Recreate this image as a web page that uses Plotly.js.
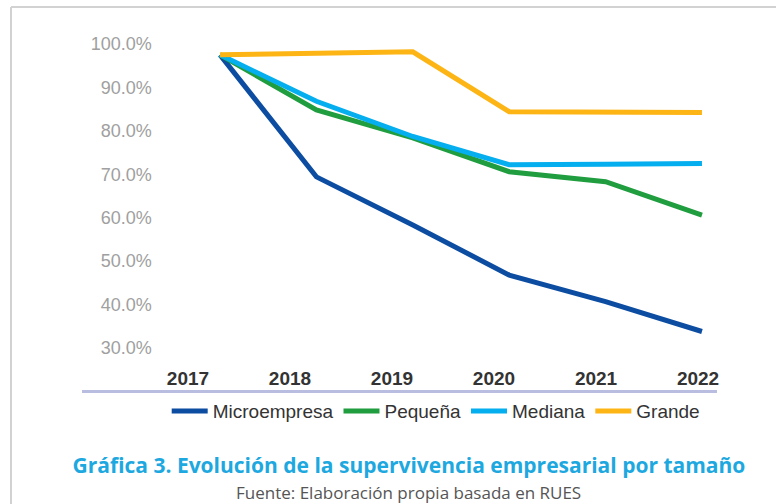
<!DOCTYPE html>
<html>
<head>
<meta charset="utf-8">
<script src="https://cdn.plot.ly/plotly-3.0.1.min.js"></script>
<style>html,body{margin:0;padding:0;background:#fff;}#chart{width:776px;height:504px;}</style>
</head>
<body>
<div id="chart"></div>
<script>
const years = [2017, 2018, 2019, 2020, 2021, 2022];
const yearLabels = ["2017", "2018", "2019", "2020", "2021", "2022"];
const seriesNames = ["Microempresa", "Pequeña", "Mediana", "Grande"];
const microempresa = [97.5, 69.4, 58.3, 46.8, 40.7, 33.8];
const pequena = [97.5, 84.8, 78.4, 70.6, 68.3, 60.6];
const mediana = [97.5, 86.8, 78.7, 72.2, 72.3, 72.5];
const grande = [97.5, 97.8, 98.2, 84.4, 84.3, 84.2];
const yTicks = [30, 40, 50, 60, 70, 80, 90, 100];
const colors = ["#0c4da2", "#1f9d3f", "#05aeee", "#fdb515"];

const seriesValues = [microempresa, pequena, mediana, grande];
const traces = seriesValues.map((vals, i) => ({
  type: "scatter",
  mode: "lines",
  x: years,
  y: vals,
  name: seriesNames[i],
  line: {color: colors[i], width: 5},
  xaxis: "x",
  yaxis: "y",
  hoverinfo: "x+y+name"
}));
// empty helper trace so the category-label axis (x2) is drawn
traces.push({
  type: "scatter", mode: "none",
  x: years, y: years.map(() => null),
  xaxis: "x2", yaxis: "y",
  showlegend: false, hoverinfo: "skip"
});

const W = 635, H = 360;
const layout = {
  width: 776,
  height: 504,
  margin: {l: 82, r: 59, t: 30, b: 114},
  paper_bgcolor: "#ffffff",
  plot_bgcolor: "#ffffff",
  showlegend: true,
  legend: {
    orientation: "h",
    x: 0.557, xanchor: "center",
    y: -0.006, yanchor: "top",
    bgcolor: "rgba(0,0,0,0)",
    font: {family: "Liberation Sans, Arial, sans-serif", size: 19, color: "#333333"},
    itemwidth: 36,
    tracegroupgap: 0
  },
  title: {
    text: "<b>Gráfica 3. Evolución de la supervivencia empresarial por tamaño</b>",
    font: {family: "Open Sans, sans-serif", size: 21, color: "#1ea8e0"},
    x: 0.527, xref: "container", xanchor: "center",
    y: 1 - 466 / 504, yref: "container", yanchor: "middle"
  },
  xaxis: {
    range: [2015.568, 2022.156],
    showline: true, linecolor: "#b9bde0", linewidth: 3,
    showticklabels: false, ticks: "", showgrid: false, zeroline: false,
    fixedrange: true
  },
  xaxis2: {
    overlaying: "x", anchor: "free", position: 0.07, side: "bottom",
    range: [2015.961, 2022.186],
    tickmode: "array", tickvals: years, ticktext: yearLabels,
    ticks: "", showline: false, showgrid: false, zeroline: false,
    tickfont: {family: "Liberation Sans, Arial, sans-serif", size: 19, color: "#333333", weight: "bold"}
  },
  yaxis: {
    range: [20.33, 103.22],
    anchor: "free", position: 0.11,
    tickmode: "array", tickvals: yTicks,
    ticktext: yTicks.map(v => v.toFixed(1) + "%"),
    ticks: "", showline: false, showgrid: false, zeroline: false,
    tickfont: {family: "Liberation Sans, Arial, sans-serif", size: 18, color: "#a0a0a0"}
  },
  annotations: [{
    text: "Fuente: Elaboración propia basada en RUES",
    xref: "paper", yref: "paper",
    x: (409 - 82) / W, y: -(493 - 390) / H,
    xanchor: "center", yanchor: "middle",
    showarrow: false,
    font: {family: "Open Sans, sans-serif", size: 17, color: "#555555"}
  }],
  shapes: [
    {type: "line", xref: "paper", yref: "paper",
     x0: (11 - 82) / W, x1: (11 - 82) / W, y0: 1 + (30 - 7) / H, y1: -(504 - 390) / H,
     line: {color: "#d2d2d2", width: 2}},
    {type: "line", xref: "paper", yref: "paper",
     x0: (11 - 82) / W, x1: (776 - 82) / W, y0: 1 + (30 - 7) / H, y1: 1 + (30 - 7) / H,
     line: {color: "#d2d2d2", width: 2}}
  ]
};

Plotly.newPlot("chart", traces, layout, {displayModeBar: false, staticPlot: true});
</script>
</body>
</html>
